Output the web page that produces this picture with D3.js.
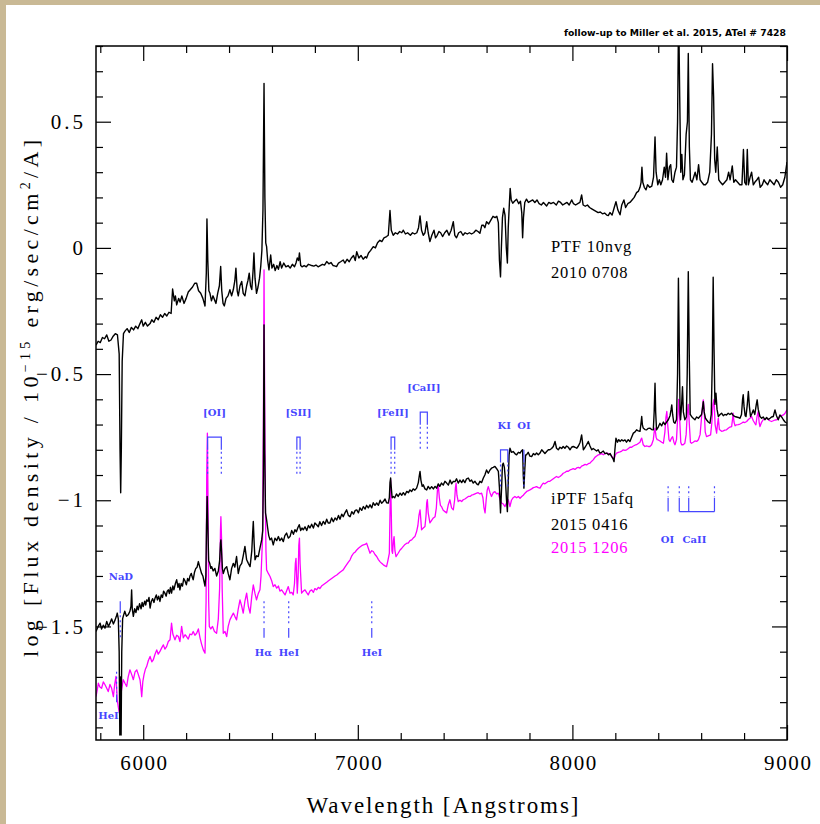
<!DOCTYPE html>
<html>
<head>
<meta charset="utf-8">
<script src="https://cdn.jsdelivr.net/npm/d3@7"></script>
<style>
  html, body { margin: 0; padding: 0; background: #fff; }
  svg { display: block; }
</style>
</head>
<body>
<svg id="chart" width="820" height="824"></svg>
<script>
// ---------------- data ----------------
const xDomain = [5780, 9000];
const yDomain = [-1.95, 0.8];

const xTickValues = [6000, 7000, 8000, 9000];
const xTickLabels = ["6000", "7000", "8000", "9000"];
const xMinorTicks = [5800, 6200, 6400, 6600, 6800, 7200, 7400, 7600, 7800, 8200, 8400, 8600, 8800];
const yTickValues = [-1.5, -1, -0.5, 0, 0.5];
const yTickLabels = ["\u22121.5", "\u22121", "\u22120.5", "0", "0.5"];
const yMinorTicks = [-1.9, -1.8, -1.7, -1.6, -1.4, -1.3, -1.2, -1.1, -0.9, -0.8, -0.7, -0.6,
                     -0.4, -0.3, -0.2, -0.1, 0.1, 0.2, 0.3, 0.4, 0.6, 0.7, 0.8];

// PTF 10nvg, 2010 0708: [wavelength (A), log flux]
const ptf10nvg = [
[5780,-0.385],[5790,-0.37],[5800,-0.375],[5810,-0.355],[5820,-0.36],[5830,-0.345],[5840,-0.37],[5850,-0.365],
[5860,-0.35],[5870,-0.34],[5880,-0.345],[5888,-0.42],[5892,-0.80],[5895,-0.97],[5898,-0.80],[5902,-0.45],
[5908,-0.34],[5915,-0.33],[5925,-0.32],[5935,-0.335],[5945,-0.315],[5955,-0.325],[5965,-0.31],[5975,-0.32],
[5985,-0.30],[5993,-0.285],[6000,-0.31],[6010,-0.295],[6020,-0.31],[6032,-0.30],[6040,-0.285],[6050,-0.295],
[6060,-0.275],[6070,-0.285],[6080,-0.265],[6090,-0.275],[6100,-0.26],[6110,-0.27],[6120,-0.255],[6130,-0.26],
[6137,-0.163],[6145,-0.21],[6150,-0.19],[6156,-0.226],[6165,-0.20],[6172,-0.215],[6180,-0.19],[6190,-0.22],
[6200,-0.20],[6210,-0.175],[6220,-0.165],[6230,-0.155],[6240,-0.14],[6249,-0.14],[6258,-0.17],[6268,-0.18],
[6278,-0.20],[6288,-0.23],[6294,-0.10],[6297,0.115],[6301,-0.05],[6306,-0.17],[6311,-0.18],[6318,-0.21],
[6325,-0.19],[6332,-0.205],[6339,-0.22],[6347,-0.18],[6355,-0.15],[6361,-0.074],[6366,-0.17],[6372,-0.22],
[6378,-0.23],[6386,-0.20],[6395,-0.19],[6404,-0.166],[6412,-0.19],[6420,-0.165],[6427,-0.13],[6432,-0.08],
[6438,-0.17],[6443,-0.19],[6451,-0.15],[6459,-0.133],[6466,-0.18],[6474,-0.19],[6482,-0.15],[6488,-0.13],
[6494,-0.10],[6500,-0.15],[6506,-0.165],[6512,-0.09],[6516,-0.02],[6521,-0.12],[6528,-0.18],[6535,-0.155],
[6542,-0.12],[6548,-0.07],[6553,-0.01],[6558,0.15],[6563,0.652],[6567,0.20],[6571,0.02],[6575,0.005],
[6580,-0.05],[6586,-0.087],[6594,-0.028],[6600,-0.08],[6608,-0.065],[6615,-0.09],[6623,-0.07],[6630,-0.085],
[6638,-0.055],[6645,-0.08],[6655,-0.06],[6665,-0.075],[6675,-0.07],[6685,-0.08],[6695,-0.065],[6705,-0.075],
[6712,-0.06],[6718,-0.04],[6724,-0.05],[6728,-0.02],[6734,-0.07],[6740,-0.075],[6750,-0.07],[6760,-0.075],
[6770,-0.065],[6777,-0.067],[6785,-0.07],[6795,-0.072],[6805,-0.068],[6815,-0.075],[6825,-0.07],[6835,-0.065],
[6845,-0.068],[6855,-0.054],[6865,-0.063],[6875,-0.058],[6885,-0.07],[6895,-0.072],[6901,-0.074],[6910,-0.06],
[6920,-0.055],[6932,-0.048],[6940,-0.06],[6950,-0.045],[6960,-0.055],[6970,-0.04],[6980,-0.03],[6988,-0.05],
[6995,-0.015],[7005,-0.04],[7015,-0.03],[7025,-0.045],[7035,-0.035],[7041,-0.04],[7050,-0.02],[7060,-0.01],
[7072,0.005],[7082,0.0],[7092,0.02],[7103,0.03],[7112,0.025],[7122,0.04],[7134,0.045],[7142,0.05],
[7150,0.148],[7156,0.07],[7165,0.05],[7175,0.06],[7185,0.055],[7195,0.065],[7205,0.06],[7212,0.07],
[7222,0.055],[7232,0.06],[7245,0.05],[7255,0.06],[7265,0.055],[7275,0.06],[7283,0.08],[7290,0.127],
[7297,0.07],[7305,0.05],[7313,0.06],[7321,0.104],[7328,0.06],[7336,0.025],[7345,0.05],[7355,0.07],
[7362,0.04],[7370,0.05],[7378,0.065],[7386,0.06],[7395,0.045],[7405,0.06],[7415,0.07],[7425,0.05],
[7435,0.07],[7445,0.104],[7452,0.05],[7460,0.04],[7470,0.06],[7480,0.065],[7490,0.05],[7500,0.06],
[7510,0.055],[7520,0.06],[7530,0.055],[7540,0.06],[7550,0.07],[7560,0.065],[7569,0.058],[7578,0.09],
[7585,0.09],[7592,0.08],[7600,0.104],[7610,0.095],[7620,0.11],[7630,0.125],[7640,0.12],[7648,0.125],
[7655,0.10],[7660,-0.05],[7665,-0.115],[7669,0.0],[7674,0.12],[7680,0.157],[7686,0.13],[7692,0.0],
[7697,-0.06],[7701,0.08],[7706,0.17],[7710,0.236],[7715,0.19],[7722,0.177],[7730,0.185],[7740,0.193],
[7750,0.175],[7758,0.185],[7764,0.14],[7768,0.04],[7772,0.12],[7778,0.18],[7786,0.193],[7795,0.18],
[7805,0.185],[7815,0.19],[7825,0.18],[7835,0.19],[7845,0.175],[7855,0.17],[7865,0.18],[7880,0.166],
[7890,0.18],[7900,0.175],[7912,0.18],[7925,0.17],[7935,0.185],[7945,0.18],[7955,0.17],[7965,0.175],
[7975,0.18],[7985,0.17],[7997,0.19],[8005,0.175],[8015,0.17],[8025,0.175],[8035,0.18],[8043,0.21],
[8050,0.17],[8060,0.165],[8070,0.17],[8080,0.16],[8090,0.155],[8100,0.15],[8110,0.145],[8120,0.14],
[8130,0.142],[8140,0.135],[8150,0.138],[8160,0.13],[8167,0.128],[8175,0.14],[8185,0.13],[8195,0.16],
[8203,0.183],[8212,0.15],[8222,0.131],[8230,0.17],[8240,0.19],[8248,0.16],[8258,0.175],[8268,0.18],
[8278,0.19],[8288,0.20],[8299,0.219],[8308,0.225],[8315,0.24],[8320,0.26],[8324,0.32],[8328,0.26],
[8335,0.24],[8343,0.23],[8350,0.25],[8360,0.24],[8370,0.245],[8378,0.28],[8385,0.44],[8390,0.30],
[8398,0.25],[8405,0.27],[8412,0.25],[8420,0.27],[8428,0.32],[8434,0.28],[8439,0.375],[8445,0.27],
[8452,0.32],[8458,0.33],[8463,0.27],[8470,0.26],[8478,0.30],[8485,0.32],[8490,0.50],[8495,0.95],
[8500,0.60],[8505,0.30],[8510,0.37],[8515,0.27],[8522,0.29],[8530,0.45],[8536,0.50],[8540,0.77],
[8545,0.40],[8550,0.27],[8558,0.26],[8565,0.28],[8572,0.30],[8580,0.27],[8588,0.33],[8595,0.27],
[8603,0.26],[8612,0.25],[8620,0.25],[8630,0.26],[8640,0.30],[8648,0.45],[8653,0.73],[8658,0.60],
[8663,0.35],[8668,0.30],[8675,0.40],[8682,0.27],[8690,0.26],[8700,0.25],[8710,0.26],[8720,0.27],
[8728,0.30],[8735,0.27],[8745,0.325],[8752,0.26],[8760,0.27],[8770,0.26],[8780,0.25],[8790,0.25],
[8797,0.39],[8803,0.26],[8810,0.25],[8815,0.39],[8820,0.25],[8828,0.28],[8835,0.30],[8843,0.25],
[8850,0.26],[8860,0.27],[8868,0.28],[8875,0.24],[8885,0.25],[8893,0.27],[8900,0.26],[8910,0.25],
[8920,0.27],[8930,0.26],[8940,0.25],[8950,0.27],[8960,0.26],[8970,0.24],[8980,0.25],[8990,0.28],[9000,0.34]
];

// iPTF 15afq, 2015 0416
const iptf15afqApr = [
[5780,-1.52],[5790,-1.50],[5799,-1.487],[5806,-1.51],[5814,-1.495],[5822,-1.507],[5830,-1.48],[5838,-1.50],
[5845,-1.487],[5853,-1.47],[5861,-1.49],[5869,-1.474],[5875,-1.46],[5879,-1.447],[5884,-1.47],[5888,-1.60],
[5891,-1.93],[5894,-1.70],[5897,-1.93],[5900,-1.60],[5904,-1.47],[5907,-1.46],[5914,-1.44],[5922,-1.46],
[5930,-1.454],[5938,-1.44],[5943,-1.42],[5946,-1.355],[5949,-1.43],[5954,-1.46],[5960,-1.43],[5966,-1.445],
[5972,-1.42],[5977,-1.434],[5983,-1.41],[5990,-1.43],[5995,-1.405],[6000,-1.421],[6007,-1.40],[6012,-1.415],
[6016,-1.395],[6022,-1.40],[6027,-1.385],[6032,-1.427],[6038,-1.40],[6044,-1.39],[6050,-1.405],[6055,-1.388],
[6061,-1.375],[6066,-1.395],[6072,-1.38],[6078,-1.401],[6084,-1.375],[6090,-1.385],[6095,-1.36],[6101,-1.368],
[6107,-1.38],[6112,-1.36],[6117,-1.355],[6122,-1.37],[6127,-1.345],[6132,-1.368],[6138,-1.34],[6143,-1.355],
[6150,-1.33],[6156,-1.315],[6162,-1.345],[6167,-1.33],[6171,-1.355],[6177,-1.33],[6183,-1.34],[6189,-1.31],
[6195,-1.32],[6201,-1.335],[6207,-1.31],[6213,-1.32],[6218,-1.30],[6224,-1.29],[6229,-1.305],[6233,-1.315],
[6239,-1.285],[6245,-1.27],[6251,-1.265],[6257,-1.243],[6262,-1.26],[6267,-1.275],[6272,-1.29],[6278,-1.30],
[6283,-1.32],[6288,-1.34],[6292,-1.30],[6295,-1.10],[6298,-0.985],[6301,-1.10],[6305,-1.24],[6310,-1.25],
[6315,-1.27],[6319,-1.263],[6326,-1.28],[6334,-1.27],[6342,-1.30],[6350,-1.28],[6356,-1.24],[6360,-1.17],
[6362,-1.157],[6365,-1.20],[6369,-1.27],[6373,-1.29],[6381,-1.27],[6389,-1.263],[6396,-1.29],[6404,-1.315],
[6412,-1.27],[6420,-1.25],[6427,-1.265],[6435,-1.223],[6443,-1.29],[6451,-1.26],[6459,-1.25],[6466,-1.22],
[6474,-1.183],[6482,-1.236],[6490,-1.25],[6498,-1.263],[6506,-1.20],[6510,-1.13],[6513,-1.084],[6517,-1.17],
[6521,-1.236],[6528,-1.22],[6536,-1.223],[6544,-1.19],[6552,-1.157],[6557,-1.12],[6560,-0.90],[6563,-0.305],
[6566,-0.80],[6570,-1.05],[6575,-1.078],[6580,-1.11],[6585,-1.14],[6591,-1.157],[6598,-1.15],[6606,-1.177],
[6614,-1.15],[6622,-1.16],[6630,-1.144],[6637,-1.16],[6645,-1.15],[6653,-1.164],[6660,-1.14],[6668,-1.13],
[6676,-1.15],[6684,-1.144],[6692,-1.12],[6700,-1.135],[6707,-1.117],[6714,-1.125],[6720,-1.11],[6727,-1.097],
[6734,-1.12],[6740,-1.11],[6746,-1.117],[6754,-1.105],[6762,-1.12],[6770,-1.10],[6777,-1.11],[6785,-1.095],
[6793,-1.11],[6800,-1.09],[6808,-1.097],[6816,-1.105],[6823,-1.085],[6831,-1.10],[6839,-1.084],[6847,-1.095],
[6855,-1.075],[6862,-1.09],[6870,-1.09],[6878,-1.07],[6886,-1.085],[6894,-1.07],[6902,-1.078],[6910,-1.06],
[6917,-1.075],[6925,-1.055],[6932,-1.065],[6940,-1.05],[6948,-1.038],[6956,-1.06],[6964,-1.065],[6972,-1.045],
[6980,-1.055],[6988,-1.04],[6995,-1.038],[7003,-1.05],[7010,-1.03],[7018,-1.04],[7026,-1.025],[7034,-1.035],
[7041,-1.02],[7049,-1.03],[7057,-1.018],[7065,-1.03],[7072,-1.01],[7080,-1.02],[7088,-1.011],[7096,-1.02],
[7104,-1.00],[7111,-1.012],[7119,-1.005],[7127,-0.995],[7134,-1.01],[7142,-1.011],[7147,-0.99],[7150,-0.93],
[7153,-0.912],[7156,-0.95],[7160,-0.99],[7165,-0.985],[7172,-0.99],[7180,-0.975],[7188,-0.985],[7197,-0.972],
[7205,-0.98],[7212,-0.97],[7220,-0.979],[7228,-0.965],[7236,-0.97],[7243,-0.959],[7251,-0.965],[7258,-0.955],
[7266,-0.96],[7274,-0.952],[7282,-0.93],[7287,-0.90],[7290,-0.886],[7294,-0.92],[7300,-0.945],[7305,-0.939],
[7313,-0.955],[7321,-0.959],[7328,-0.945],[7336,-0.955],[7344,-0.946],[7352,-0.955],[7360,-0.945],[7367,-0.952],
[7375,-0.935],[7382,-0.945],[7390,-0.932],[7398,-0.94],[7406,-0.925],[7414,-0.932],[7422,-0.94],[7430,-0.92],
[7437,-0.935],[7445,-0.925],[7453,-0.926],[7460,-0.915],[7468,-0.932],[7476,-0.92],[7484,-0.93],[7491,-0.919],
[7499,-0.93],[7507,-0.915],[7515,-0.912],[7523,-0.925],[7530,-0.92],[7538,-0.932],[7546,-0.925],[7554,-0.935],
[7561,-0.939],[7569,-0.925],[7577,-0.93],[7585,-0.912],[7592,-0.90],[7600,-0.88],[7608,-0.893],[7616,-0.88],
[7623,-0.873],[7631,-0.87],[7639,-0.866],[7647,-0.875],[7655,-0.886],[7660,-0.95],[7665,-1.05],[7670,-0.95],
[7674,-0.86],[7678,-0.853],[7683,-0.87],[7688,-0.92],[7693,-1.00],[7697,-1.045],[7701,-0.93],[7705,-0.82],
[7709,-0.794],[7716,-0.81],[7724,-0.807],[7732,-0.815],[7740,-0.82],[7748,-0.81],[7756,-0.813],[7762,-0.805],
[7768,-0.80],[7771,-0.90],[7774,-0.952],[7778,-0.88],[7782,-0.82],[7786,-0.82],[7794,-0.81],[7802,-0.825],
[7810,-0.827],[7818,-0.815],[7826,-0.82],[7833,-0.813],[7841,-0.82],[7849,-0.813],[7857,-0.80],[7864,-0.807],
[7872,-0.815],[7880,-0.807],[7888,-0.80],[7895,-0.80],[7903,-0.795],[7911,-0.787],[7919,-0.767],[7926,-0.794],
[7934,-0.80],[7942,-0.79],[7950,-0.795],[7957,-0.787],[7965,-0.794],[7973,-0.785],[7981,-0.79],[7989,-0.80],
[7996,-0.79],[8004,-0.787],[8012,-0.79],[8020,-0.794],[8028,-0.785],[8036,-0.77],[8043,-0.741],[8047,-0.77],
[8051,-0.80],[8059,-0.79],[8066,-0.78],[8074,-0.767],[8082,-0.785],[8090,-0.80],[8097,-0.795],[8105,-0.80],
[8113,-0.805],[8120,-0.80],[8128,-0.813],[8136,-0.81],[8144,-0.805],[8152,-0.815],[8160,-0.813],[8168,-0.82],
[8176,-0.815],[8183,-0.827],[8189,-0.835],[8194,-0.847],[8198,-0.80],[8203,-0.754],[8210,-0.77],[8216,-0.76],
[8222,-0.767],[8230,-0.76],[8237,-0.765],[8245,-0.761],[8252,-0.77],[8260,-0.76],[8268,-0.767],[8276,-0.75],
[8284,-0.734],[8291,-0.73],[8299,-0.721],[8307,-0.725],[8315,-0.727],[8319,-0.70],[8323,-0.668],[8326,-0.70],
[8330,-0.714],[8338,-0.72],[8346,-0.721],[8354,-0.715],[8361,-0.714],[8369,-0.72],[8377,-0.721],[8381,-0.65],
[8385,-0.536],[8388,-0.65],[8392,-0.721],[8400,-0.71],[8408,-0.695],[8416,-0.705],[8424,-0.69],[8431,-0.70],
[8439,-0.69],[8447,-0.681],[8455,-0.665],[8460,-0.64],[8463,-0.622],[8467,-0.66],[8472,-0.69],[8478,-0.695],
[8485,-0.68],[8490,-0.50],[8494,-0.12],[8498,-0.40],[8502,-0.66],[8504,-0.681],[8509,-0.62],[8513,-0.55],
[8517,-0.65],[8524,-0.681],[8531,-0.67],[8535,-0.50],[8540,-0.094],[8545,-0.45],[8549,-0.66],[8555,-0.668],
[8563,-0.675],[8571,-0.681],[8579,-0.67],[8587,-0.675],[8594,-0.668],[8602,-0.66],[8607,-0.63],[8610,-0.609],
[8614,-0.65],[8620,-0.675],[8625,-0.681],[8633,-0.69],[8641,-0.695],[8647,-0.66],[8652,-0.45],[8656,-0.116],
[8660,-0.40],[8664,-0.62],[8669,-0.576],[8674,-0.64],[8680,-0.668],[8688,-0.66],[8695,-0.655],[8703,-0.665],
[8710,-0.66],[8718,-0.662],[8726,-0.655],[8734,-0.66],[8742,-0.655],[8750,-0.665],[8757,-0.668],[8765,-0.67],
[8773,-0.672],[8781,-0.675],[8788,-0.66],[8793,-0.60],[8796,-0.582],[8800,-0.63],[8805,-0.665],[8809,-0.668],
[8815,-0.62],[8820,-0.569],[8825,-0.63],[8830,-0.668],[8837,-0.655],[8843,-0.642],[8850,-0.66],[8857,-0.62],
[8861,-0.602],[8866,-0.64],[8874,-0.668],[8882,-0.675],[8889,-0.67],[8897,-0.681],[8905,-0.672],[8913,-0.68],
[8921,-0.675],[8928,-0.67],[8936,-0.668],[8944,-0.642],[8951,-0.665],[8959,-0.681],[8967,-0.662],[8975,-0.67],
[8983,-0.681],[8991,-0.69],[9000,-0.695]
];

// iPTF 15afq, 2015 1206
const iptf15afqDec = [
[5780,-1.778],[5786,-1.75],[5791,-1.725],[5798,-1.74],[5806,-1.745],[5814,-1.72],[5822,-1.731],[5830,-1.745],
[5837,-1.758],[5845,-1.73],[5853,-1.745],[5861,-1.778],[5867,-1.73],[5873,-1.698],[5879,-1.791],[5884,-1.82],
[5889,-1.844],[5894,-1.80],[5899,-1.751],[5907,-1.711],[5915,-1.725],[5923,-1.738],[5930,-1.70],[5938,-1.672],
[5946,-1.69],[5954,-1.711],[5962,-1.68],[5970,-1.672],[5977,-1.69],[5985,-1.711],[5989,-1.74],[5993,-1.778],
[5998,-1.72],[6004,-1.69],[6010,-1.67],[6016,-1.659],[6024,-1.635],[6032,-1.619],[6040,-1.64],[6047,-1.632],
[6055,-1.61],[6063,-1.593],[6070,-1.61],[6078,-1.599],[6086,-1.585],[6094,-1.573],[6101,-1.59],[6109,-1.58],
[6117,-1.56],[6125,-1.553],[6132,-1.487],[6138,-1.53],[6148,-1.553],[6156,-1.535],[6164,-1.54],[6171,-1.56],
[6179,-1.50],[6187,-1.545],[6195,-1.533],[6202,-1.54],[6210,-1.55],[6218,-1.53],[6226,-1.533],[6233,-1.52],
[6241,-1.535],[6249,-1.527],[6257,-1.51],[6265,-1.546],[6272,-1.57],[6280,-1.593],[6288,-1.606],[6293,-1.40],
[6296,-0.90],[6299,-0.734],[6302,-1.00],[6305,-1.40],[6308,-1.50],[6315,-1.51],[6323,-1.50],[6332,-1.52],
[6342,-1.527],[6350,-1.47],[6356,-1.35],[6360,-1.12],[6362,-1.065],[6365,-1.15],[6368,-1.35],[6373,-1.527],
[6381,-1.52],[6389,-1.54],[6396,-1.50],[6404,-1.474],[6412,-1.46],[6420,-1.447],[6427,-1.46],[6435,-1.474],
[6443,-1.43],[6451,-1.395],[6459,-1.42],[6466,-1.447],[6474,-1.40],[6482,-1.368],[6490,-1.42],[6498,-1.447],
[6506,-1.38],[6513,-1.335],[6521,-1.37],[6528,-1.395],[6536,-1.37],[6544,-1.355],[6549,-1.30],[6552,-1.236],
[6556,-1.15],[6560,-0.70],[6563,-0.087],[6566,-0.60],[6569,-1.00],[6572,-1.20],[6575,-1.276],[6583,-1.29],
[6591,-1.302],[6599,-1.32],[6606,-1.342],[6614,-1.335],[6622,-1.348],[6630,-1.34],[6637,-1.36],[6645,-1.355],
[6653,-1.365],[6661,-1.375],[6668,-1.36],[6676,-1.342],[6684,-1.368],[6692,-1.365],[6699,-1.375],[6705,-1.33],
[6709,-1.25],[6712,-1.23],[6715,-1.30],[6718,-1.368],[6722,-1.30],[6725,-1.18],[6728,-1.15],[6731,-1.25],
[6738,-1.368],[6746,-1.36],[6754,-1.355],[6761,-1.365],[6769,-1.375],[6777,-1.36],[6785,-1.355],[6793,-1.365],
[6800,-1.35],[6808,-1.355],[6816,-1.345],[6823,-1.35],[6831,-1.34],[6839,-1.335],[6847,-1.33],[6855,-1.325],
[6862,-1.32],[6870,-1.315],[6878,-1.31],[6886,-1.305],[6894,-1.30],[6902,-1.296],[6910,-1.29],[6917,-1.285],
[6925,-1.28],[6932,-1.276],[6940,-1.265],[6948,-1.255],[6956,-1.245],[6964,-1.236],[6972,-1.22],[6980,-1.21],
[6988,-1.205],[6995,-1.197],[7003,-1.19],[7010,-1.185],[7018,-1.18],[7026,-1.177],[7034,-1.175],[7041,-1.17],
[7049,-1.19],[7057,-1.21],[7065,-1.20],[7072,-1.203],[7080,-1.215],[7088,-1.223],[7096,-1.235],[7103,-1.243],
[7111,-1.25],[7119,-1.256],[7127,-1.26],[7134,-1.263],[7140,-1.24],[7147,-1.21],[7150,-1.05],[7153,-0.919],
[7156,-1.05],[7159,-1.20],[7162,-1.21],[7166,-1.16],[7169,-1.144],[7173,-1.20],[7178,-1.223],[7188,-1.21],
[7197,-1.197],[7205,-1.19],[7212,-1.183],[7220,-1.175],[7228,-1.17],[7235,-1.17],[7243,-1.16],[7251,-1.157],
[7258,-1.15],[7266,-1.144],[7274,-1.124],[7280,-1.10],[7285,-1.06],[7290,-1.038],[7294,-1.08],[7297,-1.117],
[7305,-1.11],[7313,-1.104],[7318,-1.06],[7321,-1.01],[7324,-0.998],[7328,-1.05],[7336,-1.09],[7344,-1.08],
[7352,-1.07],[7360,-1.065],[7366,-1.03],[7371,-0.96],[7375,-0.94],[7380,-0.99],[7385,-1.02],[7390,-1.025],
[7398,-1.04],[7406,-1.045],[7414,-1.05],[7421,-1.02],[7429,-0.998],[7437,-1.03],[7445,-1.038],[7451,-1.00],
[7455,-0.95],[7458,-0.932],[7462,-0.98],[7468,-1.005],[7476,-1.00],[7484,-1.005],[7491,-0.998],[7499,-0.995],
[7507,-0.99],[7515,-0.985],[7523,-0.985],[7530,-0.98],[7538,-0.978],[7546,-0.975],[7554,-0.972],[7561,-0.97],
[7569,-0.975],[7577,-0.972],[7583,-0.99],[7588,-1.03],[7593,-1.05],[7598,-1.00],[7603,-0.96],[7608,-0.946],
[7616,-0.97],[7623,-0.985],[7631,-0.97],[7639,-0.966],[7647,-0.975],[7655,-0.972],[7662,-0.995],[7670,-1.011],
[7678,-1.015],[7686,-1.025],[7693,-1.01],[7701,-0.998],[7709,-1.025],[7716,-1.00],[7724,-0.99],[7732,-0.985],
[7740,-0.99],[7748,-0.985],[7756,-0.992],[7764,-0.985],[7771,-0.98],[7779,-0.972],[7787,-0.965],[7795,-0.962],
[7802,-0.959],[7810,-0.955],[7818,-0.95],[7826,-0.948],[7833,-0.946],[7841,-0.95],[7849,-0.952],[7857,-0.94],
[7864,-0.932],[7872,-0.935],[7880,-0.93],[7888,-0.925],[7895,-0.925],[7903,-0.92],[7911,-0.915],[7919,-0.91],
[7926,-0.906],[7934,-0.91],[7942,-0.906],[7950,-0.90],[7957,-0.893],[7965,-0.89],[7973,-0.885],[7981,-0.885],
[7989,-0.88],[7996,-0.878],[8004,-0.875],[8012,-0.878],[8020,-0.872],[8028,-0.87],[8035,-0.873],[8043,-0.865],
[8051,-0.862],[8059,-0.858],[8066,-0.86],[8074,-0.855],[8082,-0.853],[8090,-0.845],[8097,-0.84],[8105,-0.83],
[8113,-0.825],[8121,-0.82],[8128,-0.818],[8136,-0.815],[8144,-0.82],[8152,-0.815],[8160,-0.813],[8168,-0.815],
[8176,-0.82],[8183,-0.825],[8189,-0.83],[8194,-0.84],[8200,-0.82],[8206,-0.813],[8214,-0.81],[8222,-0.808],
[8230,-0.805],[8237,-0.80],[8245,-0.802],[8253,-0.80],[8261,-0.795],[8268,-0.79],[8276,-0.79],[8284,-0.785],
[8291,-0.782],[8299,-0.78],[8307,-0.775],[8315,-0.77],[8319,-0.76],[8323,-0.754],[8330,-0.78],[8338,-0.787],
[8346,-0.785],[8354,-0.787],[8361,-0.787],[8369,-0.78],[8377,-0.76],[8381,-0.73],[8385,-0.714],[8390,-0.75],
[8395,-0.76],[8400,-0.761],[8408,-0.765],[8416,-0.77],[8424,-0.774],[8431,-0.73],[8436,-0.67],[8440,-0.648],
[8444,-0.70],[8450,-0.76],[8455,-0.767],[8461,-0.755],[8467,-0.748],[8473,-0.77],[8478,-0.78],[8485,-0.76],
[8490,-0.68],[8495,-0.60],[8500,-0.68],[8505,-0.77],[8509,-0.78],[8516,-0.78],[8524,-0.774],[8530,-0.74],
[8535,-0.66],[8540,-0.62],[8545,-0.70],[8550,-0.77],[8555,-0.774],[8563,-0.77],[8571,-0.765],[8579,-0.767],
[8587,-0.76],[8595,-0.74],[8603,-0.66],[8607,-0.62],[8610,-0.602],[8614,-0.64],[8619,-0.73],[8625,-0.748],
[8633,-0.745],[8641,-0.742],[8644,-0.741],[8650,-0.69],[8655,-0.62],[8660,-0.60],[8665,-0.70],[8672,-0.734],
[8676,-0.70],[8680,-0.675],[8685,-0.72],[8695,-0.727],[8703,-0.725],[8710,-0.722],[8718,-0.721],[8726,-0.715],
[8734,-0.71],[8742,-0.708],[8746,-0.68],[8749,-0.655],[8753,-0.69],[8758,-0.705],[8765,-0.701],[8773,-0.70],
[8781,-0.698],[8788,-0.695],[8796,-0.69],[8804,-0.692],[8812,-0.688],[8820,-0.68],[8827,-0.675],[8835,-0.668],
[8843,-0.685],[8850,-0.695],[8855,-0.701],[8860,-0.67],[8866,-0.648],[8870,-0.69],[8874,-0.708],[8882,-0.69],
[8889,-0.681],[8897,-0.678],[8905,-0.675],[8913,-0.68],[8920,-0.685],[8928,-0.688],[8936,-0.685],[8944,-0.682],
[8952,-0.681],[8960,-0.675],[8967,-0.668],[8975,-0.665],[8983,-0.662],[8991,-0.655],[9000,-0.642]
];

// Line identifications above the spectra (rest wavelengths, bracket level in log flux)
const emissionLabels = ["[OI]", "[SII]", "[FeII]", "[CaII]", "KI", "OI"];
const emissionWaves = [[6300, 6364], [6716, 6731], [7155, 7172], [7291, 7324], [7665, 7699], [7774]];
const emissionLevels = [-0.75, -0.75, -0.75, -0.651, -0.80, -0.80];

// Line identifications below the spectra
const lowerLabels = ["NaD", "H\u03b1", "HeI", "HeI", "HeI"];
const lowerWaves = [5893, 6563, 6678, 7065, 5876];
const lowerTop = [-1.40, -1.40, -1.40, -1.40, -1.68];
const lowerBottom = [-1.545, -1.545, -1.545, -1.545, -1.80];
const lowerSolidFirst = [true, false, false, false, false];
const lowerLabelWaves = [5896, 6560, 6679, 7066, 5838];
const lowerLabelLevels = [-1.317, -1.619, -1.619, -1.619, -1.866];

// OI 8446 and the CaII near-infrared triplet
const tripletLabels = ["OI", "CaII"];
const tripletWaves = [[8446], [8498, 8542, 8662]];
const tripletLabelWaves = [8443, 8569];
const tripletTop = -0.945, tripletMid = -0.99, tripletBottom = -1.045, tripletLabelLevel = -1.169;

// Legend
const legendLines = ["PTF 10nvg", "2010 0708", "iPTF 15afq", "2015 0416", "2015 1206"];
const legendColors = ["#000", "#000", "#000", "#000", "#ff00ff"];

const titleText = "follow-up to Miller et al. 2015, ATel # 7428";

// ---------------- drawing ----------------
const W = 820, H = 824;
const plot = { left: 96, right: 787, top: 46, bottom: 740 };
const serif = "'Liberation Serif', 'DejaVu Serif', serif";
const blue = "#4646ff";

const svg = d3.select("#chart");
svg.append("rect").attr("width", W).attr("height", H).attr("fill", "#fff");
// tan page edge
svg.append("rect").attr("x", 0).attr("y", 0).attr("width", W).attr("height", 5).attr("fill", "#c9b995");
svg.append("rect").attr("x", 0).attr("y", 0).attr("width", 6).attr("height", H).attr("fill", "#c9b995");

const x = d3.scaleLinear().domain(xDomain).range([plot.left, plot.right]);
const y = d3.scaleLinear().domain(yDomain).range([plot.bottom, plot.top]);

svg.append("defs").append("clipPath").attr("id", "plotClip")
  .append("rect").attr("x", plot.left).attr("y", plot.top)
  .attr("width", plot.right - plot.left).attr("height", plot.bottom - plot.top);

// spectra
const line = d3.line().x(d => x(d[0])).y(d => y(d[1]));
const spectra = svg.append("g").attr("clip-path", "url(#plotClip)");
spectra.append("path").datum(ptf10nvg).attr("d", line)
  .attr("fill", "none").attr("stroke", "#000").attr("stroke-width", 1.4).attr("stroke-linejoin", "round");
spectra.append("path").datum(iptf15afqDec).attr("d", line)
  .attr("fill", "none").attr("stroke", "#ff00ff").attr("stroke-width", 1.3).attr("stroke-linejoin", "round");
spectra.append("path").datum(iptf15afqApr).attr("d", line)
  .attr("fill", "none").attr("stroke", "#000").attr("stroke-width", 1.4).attr("stroke-linejoin", "round");

// axes: ticks point inward on all four sides
function tidy(g) {
  g.select(".domain").remove();
  g.selectAll(".tick line").attr("stroke", "#000").attr("stroke-width", 1.2);
  g.attr("font-family", null).attr("font-size", null);
}
const noLabel = () => "";

svg.append("g").attr("transform", `translate(0,${plot.bottom})`)
  .call(d3.axisBottom(x).tickValues(xTickValues).tickSizeInner(-15).tickSizeOuter(0).tickPadding(15)
    .tickFormat((d, i) => xTickLabels[i]))
  .call(tidy)
  .selectAll("text").attr("font-family", serif).attr("font-size", 21).attr("fill", "#000")
  .attr("letter-spacing", 1.6).attr("dx", 0.8);
svg.append("g").attr("transform", `translate(0,${plot.bottom})`)
  .call(d3.axisBottom(x).tickValues(xMinorTicks).tickSize(-7).tickFormat(noLabel)).call(tidy);
svg.append("g").attr("transform", `translate(0,${plot.top})`)
  .call(d3.axisTop(x).tickValues(xTickValues).tickSize(-15).tickFormat(noLabel)).call(tidy);
svg.append("g").attr("transform", `translate(0,${plot.top})`)
  .call(d3.axisTop(x).tickValues(xMinorTicks).tickSize(-7).tickFormat(noLabel)).call(tidy);

svg.append("g").attr("transform", `translate(${plot.left},0)`)
  .call(d3.axisLeft(y).tickValues(yTickValues).tickSizeInner(-15).tickSizeOuter(0).tickPadding(10)
    .tickFormat((d, i) => yTickLabels[i]))
  .call(tidy)
  .selectAll("text").attr("font-family", serif).attr("font-size", 21).attr("fill", "#000")
  .attr("letter-spacing", 3);
svg.append("g").attr("transform", `translate(${plot.left},0)`)
  .call(d3.axisLeft(y).tickValues(yMinorTicks).tickSize(-7).tickFormat(noLabel)).call(tidy);
svg.append("g").attr("transform", `translate(${plot.right},0)`)
  .call(d3.axisRight(y).tickValues(yTickValues).tickSize(-15).tickFormat(noLabel)).call(tidy);
svg.append("g").attr("transform", `translate(${plot.right},0)`)
  .call(d3.axisRight(y).tickValues(yMinorTicks).tickSize(-7).tickFormat(noLabel)).call(tidy);

// frame
svg.append("rect").attr("x", plot.left).attr("y", plot.top)
  .attr("width", plot.right - plot.left).attr("height", plot.bottom - plot.top)
  .attr("fill", "none").attr("stroke", "#000").attr("stroke-width", 1.5);

// axis titles
svg.append("text").attr("x", (plot.left + plot.right) / 2 + 1).attr("y", 813)
  .attr("text-anchor", "middle").attr("font-family", serif).attr("font-size", 23)
  .attr("textLength", 272).attr("lengthAdjust", "spacing")
  .text("Wavelength [Angstroms]");

const yTitle = svg.append("text")
  .attr("transform", `translate(38,${(140 + 657) / 2}) rotate(-90)`)
  .attr("text-anchor", "middle").attr("font-family", serif).attr("font-size", 22)
  .attr("textLength", 517).attr("lengthAdjust", "spacing");
yTitle.append("tspan").text("log [Flux density / 10");
yTitle.append("tspan").attr("dy", -8).attr("font-size", 14).text("\u221215");
yTitle.append("tspan").attr("dy", 8).text(" erg/sec/cm");
yTitle.append("tspan").attr("dy", -8).attr("font-size", 14).text("2");
yTitle.append("tspan").attr("dy", 8).text("/A]");

// header note
svg.append("text").attr("x", 786).attr("y", 36).attr("text-anchor", "end")
  .attr("font-family", "'DejaVu Sans', sans-serif").attr("font-weight", "bold").attr("font-size", 9)
  .attr("textLength", 222).attr("lengthAdjust", "spacingAndGlyphs")
  .text(titleText);

// legend
const legendBaselines = [252, 277.5, 503.5, 529.5, 553];
svg.append("g").selectAll("text").data(legendLines).join("text")
  .attr("x", 551).attr("y", (d, i) => legendBaselines[i])
  .attr("font-family", serif).attr("font-size", 16.5).attr("letter-spacing", 0.8)
  .attr("fill", (d, i) => legendColors[i])
  .text(d => d);

// line identifications
const ids = svg.append("g").attr("stroke", blue).attr("stroke-width", 1.2).attr("fill", "none");
const idText = svg.append("g").attr("fill", blue).attr("font-family", "'DejaVu Serif', serif")
  .attr("font-weight", "bold").attr("font-size", 10).attr("text-anchor", "middle");
const solidLen = 0.05, dottedLen = 0.10;

emissionLabels.forEach((lab, i) => {
  const waves = emissionWaves[i];
  const top = emissionLevels[i];
  const solidEnd = top - solidLen, dotEnd = solidEnd - dottedLen;
  if (waves.length === 2) {
    ids.append("path").attr("d",
      `M${x(waves[0])},${y(solidEnd)}V${y(top)}H${x(waves[1])}V${y(solidEnd)}`);
  } else {
    ids.append("path").attr("d", `M${x(waves[0])},${y(top)}V${y(solidEnd)}`);
  }
  waves.forEach(w => {
    ids.append("path").attr("d", `M${x(w)},${y(solidEnd) + 2}V${y(dotEnd)}`)
      .attr("stroke-dasharray", "2,3");
  });
  const cx = d3.mean(waves.map(w => x(w)));
  idText.append("text").attr("x", cx).attr("y", y(top) - 21).text(lab);
});

lowerLabels.forEach((lab, i) => {
  const xp = x(lowerWaves[i]);
  const t = lowerTop[i], b = lowerBottom[i];
  const split = lowerSolidFirst[i] ? t - (t - b) * 0.33 : t - (t - b) * 0.68;
  const upper = ids.append("path").attr("d", `M${xp},${y(t)}V${y(split)}`);
  const lower = ids.append("path").attr("d", `M${xp},${y(split) + 2}V${y(b)}`);
  if (lowerSolidFirst[i]) lower.attr("stroke-dasharray", "2,3");
  else upper.attr("stroke-dasharray", "2,3");
  idText.append("text").attr("x", x(lowerLabelWaves[i])).attr("y", y(lowerLabelLevels[i])).text(lab);
});

tripletLabels.forEach((lab, i) => {
  const waves = tripletWaves[i];
  waves.forEach(w => {
    ids.append("path").attr("d", `M${x(w)},${y(tripletTop)}V${y(tripletMid) - 1}`)
      .attr("stroke-dasharray", "2,3");
    ids.append("path").attr("d", `M${x(w)},${y(tripletMid)}V${y(tripletBottom)}`);
  });
  if (waves.length > 1) {
    ids.append("path").attr("d",
      `M${x(waves[0])},${y(tripletBottom)}H${x(waves[waves.length - 1])}`);
  }
  idText.append("text").attr("x", x(tripletLabelWaves[i])).attr("y", y(tripletLabelLevel)).text(lab);
});
</script>
</body>
</html>
